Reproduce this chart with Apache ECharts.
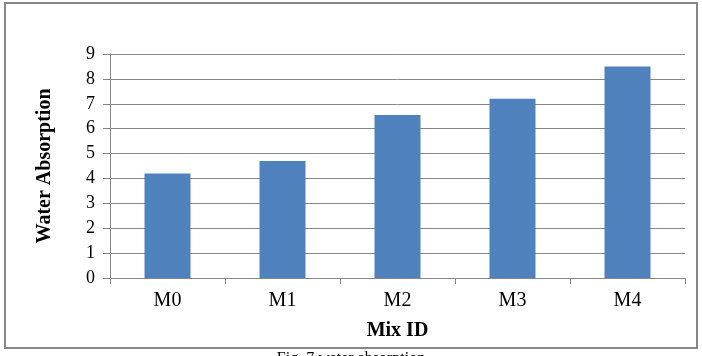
<!DOCTYPE html>
<html>
<head>
<meta charset="utf-8">
<script src="https://cdn.jsdelivr.net/npm/echarts@6/dist/echarts.min.js"></script>
<style>
  html, body { margin: 0; padding: 0; background: #fff; }
  #chart { width: 702px; height: 356px; }
</style>
</head>
<body>
<div id="chart"></div>
<script>
// Water absorption per mix
const mixIds = ['M0', 'M1', 'M2', 'M3', 'M4'];
const waterAbsorption = [4.2, 4.7, 6.55, 7.2, 8.5];
const yTicks = { min: 0, max: 9, interval: 1 };

const chart = echarts.init(document.getElementById('chart'));
const grey = '#868686';
const serif = '"Liberation Serif", "Times New Roman", serif';

chart.setOption({
  animation: false,
  grid: { left: 110, right: 17, top: 54, bottom: 78 },
  xAxis: {
    type: 'category',
    data: mixIds,
    name: 'Mix ID',
    nameLocation: 'middle',
    nameGap: 43,
    nameTextStyle: { fontFamily: serif, fontSize: 20, fontWeight: 'bold', color: '#000' },
    axisLine: { lineStyle: { color: grey, width: 1 } },
    axisTick: { show: true, length: 6, lineStyle: { color: grey } },
    axisLabel: { fontFamily: serif, fontSize: 20, color: '#000', margin: 13 }
  },
  yAxis: {
    type: 'value',
    min: yTicks.min,
    max: yTicks.max,
    interval: yTicks.interval,
    name: 'Water Absorption',
    nameLocation: 'middle',
    nameGap: 55,
    nameTextStyle: { fontFamily: serif, fontSize: 20, fontWeight: 'bold', color: '#000' },
    axisLine: { show: true, lineStyle: { color: grey, width: 1 } },
    axisTick: { show: true, length: 7, lineStyle: { color: grey } },
    axisLabel: { fontFamily: serif, fontSize: 18, color: '#000', margin: 15 },
    splitLine: { lineStyle: { color: grey, width: 1 } }
  },
  series: [{
    type: 'bar',
    data: waterAbsorption,
    barCategoryGap: '60%',
    itemStyle: { color: '#4F81BD' }
  }],
  graphic: [
    {
      type: 'rect',
      shape: { x: 5, y: 3, width: 692, height: 345 },
      style: { fill: 'none', stroke: grey, lineWidth: 2 },
      silent: true
    },
    {
      type: 'text',
      left: 'center',
      top: 351,
      style: { text: 'Fig. 7 water absorption', font: '16px ' + serif, fill: '#000' }
    }
  ]
});
</script>
</body>
</html>
